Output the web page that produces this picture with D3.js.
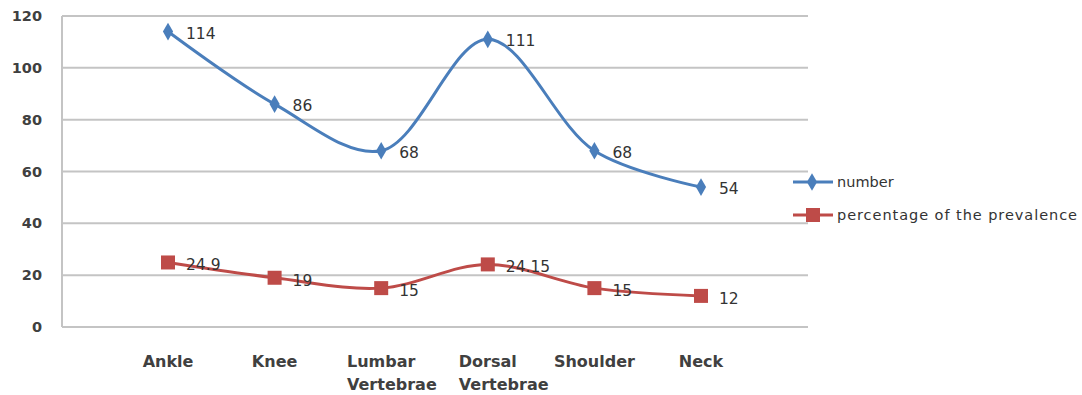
<!DOCTYPE html>
<html>
<head>
<meta charset="utf-8">
<script src="https://cdn.jsdelivr.net/npm/d3@7"></script>
<style>
  html, body { margin: 0; padding: 0; background: #fff; }
  svg { display: block; font-family: "DejaVu Sans", Verdana, sans-serif; }
</style>
</head>
<body>
<svg id="chart" width="1082" height="395"></svg>
<script>
// Data
const categories = [["Ankle"], ["Knee"], ["Lumbar", "Vertebrae"], ["Dorsal", "Vertebrae"], ["Shoulder"], ["Neck"]];
const numberValues = [114, 86, 68, 111, 68, 54];
const prevalenceValues = [24.9, 19, 15, 24.15, 15, 12];
const prevalenceLabels = ["24.9", "19", "15", "24.15", "15", "12"];
const yTicks = [0, 20, 40, 60, 80, 100, 120];
const seriesNames = ["number", "percentage of the prevalence"];

const svg = d3.select("#chart");
const plot = { left: 62, right: 808, top: 16, bottom: 327 };
const keys = categories.map(c => c.join(" "));

const x = d3.scalePoint().domain(keys).range([168, 701]);
const y = d3.scaleLinear().domain([0, 120]).range([plot.bottom, plot.top]);

// Gridlines
svg.append("g").selectAll("line").data(yTicks).join("line")
  .attr("x1", plot.left).attr("x2", plot.right)
  .attr("y1", d => y(d)).attr("y2", d => y(d))
  .attr("stroke", "#c4c4c4").attr("stroke-width", 2);

// Left axis line
svg.append("line")
  .attr("x1", plot.left).attr("x2", plot.left)
  .attr("y1", plot.top).attr("y2", plot.bottom)
  .attr("stroke", "#c4c4c4").attr("stroke-width", 2);

// Y tick labels
const yAxis = d3.axisLeft(y).tickValues(yTicks).tickSize(0).tickPadding(20);
const yg = svg.append("g").attr("transform", `translate(${plot.left},0)`).call(yAxis);
yg.select(".domain").remove();
yg.selectAll("text").attr("font-size", 14.5).attr("font-weight", "bold").attr("fill", "#404040")
  .attr("font-family", "'DejaVu Sans', sans-serif");

// X category labels; wrapped labels share the left edge of their first line
const xg = svg.append("g");
categories.forEach((c, i) => {
  const cx = x(keys[i]);
  const t = xg.append("text").attr("y", 367)
    .attr("font-size", 16).attr("font-weight", "bold").attr("fill", "#404040");
  const first = t.append("tspan").attr("x", cx).text(c[0]);
  const w = first.node().getComputedTextLength();
  const left = cx - w / 2;
  first.attr("x", left);
  c.slice(1).forEach(line => {
    t.append("tspan").attr("x", left).attr("dy", 23).text(line);
  });
});

const line = d3.line().x((d, i) => x(keys[i])).y(d => y(d)).curve(d3.curveCatmullRom.alpha(0.5));

// Prevalence series
const red = "#be4b48";
svg.append("path").datum(prevalenceValues).attr("d", line)
  .attr("fill", "none").attr("stroke", red).attr("stroke-width", 3);
svg.append("g").selectAll("rect").data(prevalenceValues).join("rect")
  .attr("x", (d, i) => x(keys[i]) - 7).attr("y", d => y(d) - 7)
  .attr("width", 14).attr("height", 14).attr("fill", red);

// Number series
const blue = "#4a7ebb";
svg.append("path").datum(numberValues).attr("d", line)
  .attr("fill", "none").attr("stroke", blue).attr("stroke-width", 3);
const diamond = d3.symbol().type(d3.symbolDiamond).size(90);
svg.append("g").selectAll("path").data(numberValues).join("path")
  .attr("d", diamond)
  .attr("transform", (d, i) => `translate(${x(keys[i])},${y(d)})`)
  .attr("fill", blue);

// Data labels
const labelStyle = sel => sel.attr("font-size", 15.5).attr("fill", "#333")
  .attr("dominant-baseline", "central");
svg.append("g").selectAll("text").data(numberValues).join("text")
  .attr("x", (d, i) => x(keys[i]) + 18).attr("y", d => y(d) + 2)
  .text(d => d).call(labelStyle);
svg.append("g").selectAll("text").data(prevalenceValues).join("text")
  .attr("x", (d, i) => x(keys[i]) + 18).attr("y", d => y(d) + 3)
  .text((d, i) => prevalenceLabels[i]).call(labelStyle);

// Legend
const legend = svg.append("g");
const ly = [182, 215];
[blue, red].forEach((col, i) => {
  legend.append("line").attr("x1", 793).attr("x2", 833).attr("y1", ly[i]).attr("y2", ly[i])
    .attr("stroke", col).attr("stroke-width", 3);
  if (i === 0) {
    legend.append("path").attr("d", diamond).attr("transform", `translate(812,${ly[i]})`).attr("fill", col);
  } else {
    legend.append("rect").attr("x", 806).attr("y", ly[i] - 7).attr("width", 14).attr("height", 14).attr("fill", col);
  }
  const txt = legend.append("text").attr("x", 837).attr("y", ly[i]).attr("dominant-baseline", "central")
    .attr("font-size", 14.5).attr("fill", "#333").text(seriesNames[i]);
  if (i === 1) txt.attr("textLength", 240).attr("lengthAdjust", "spacing");
});
</script>
</body>
</html>
